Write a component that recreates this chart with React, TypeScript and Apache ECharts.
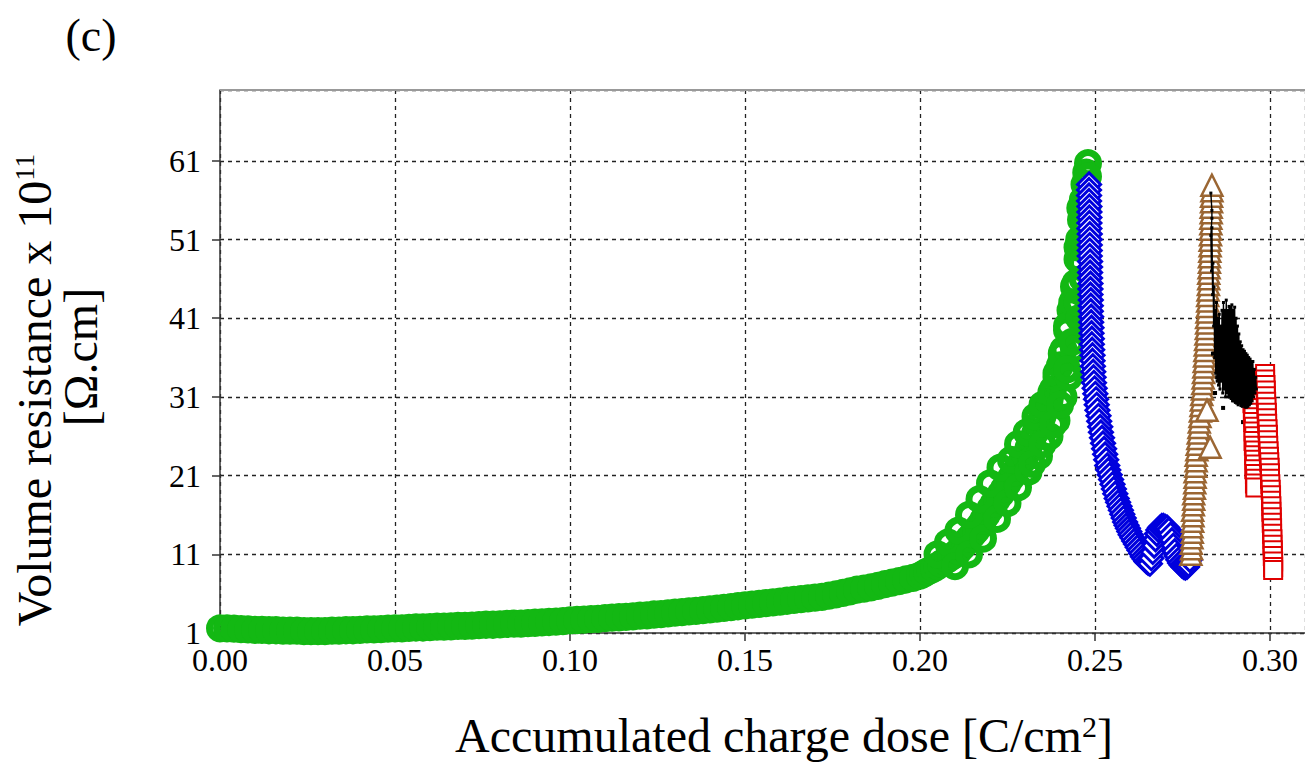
import { useEffect, useRef } from "react";
import * as echarts from "echarts";

const FONT = '"Liberation Serif", "Times New Roman", serif';

// ---- tick values ----
const xTicks = { min: 0, max: 0.31, step: 0.05 };
const yTicks = { min: 1, max: 70, step: 10 };

// ---- series (x: accumulated charge dose, y: volume resistance x 1e11) ----
const greenCircles: [number, number][] = [
  [0.000,1.6],[0.002,1.6],[0.004,1.55],[0.006,1.5],[0.008,1.45],[0.010,1.4],[0.012,1.4],[0.014,1.35],[0.016,1.35],[0.018,1.3],
  [0.020,1.3],[0.022,1.3],[0.024,1.25],[0.026,1.25],[0.028,1.25],[0.030,1.25],[0.032,1.3],[0.034,1.3],[0.036,1.35],[0.038,1.35],
  [0.040,1.4],[0.042,1.45],[0.044,1.45],[0.046,1.5],[0.048,1.55],[0.050,1.6],[0.052,1.6],[0.054,1.65],[0.056,1.7],[0.058,1.7],
  [0.060,1.75],[0.062,1.8],[0.064,1.8],[0.066,1.85],[0.068,1.9],[0.070,1.9],[0.072,1.95],[0.074,2.0],[0.076,2.05],[0.078,2.05],
  [0.080,2.1],[0.082,2.15],[0.084,2.2],[0.086,2.2],[0.088,2.25],[0.090,2.3],[0.092,2.35],[0.094,2.4],[0.096,2.45],[0.098,2.5],
  [0.100,2.6],[0.102,2.65],[0.104,2.7],[0.106,2.75],[0.108,2.8],[0.110,2.9],[0.112,2.95],[0.114,3.0],[0.116,3.05],[0.118,3.1],
  [0.120,3.2],[0.122,3.25],[0.124,3.35],[0.126,3.4],[0.128,3.5],[0.130,3.6],[0.132,3.65],[0.134,3.75],[0.136,3.8],[0.138,3.9],
  [0.140,4.0],[0.142,4.1],[0.144,4.2],[0.146,4.3],[0.148,4.4],[0.150,4.5],[0.152,4.6],[0.154,4.7],[0.156,4.8],[0.158,4.9],
  [0.160,5.0],[0.162,5.1],[0.164,5.2],[0.166,5.3],[0.168,5.4],[0.170,5.5],[0.172,5.6],[0.174,5.75],[0.176,5.9],[0.178,6.1],
  [0.180,6.3],[0.182,6.5],[0.184,6.65],[0.186,6.8],[0.188,7.0],[0.190,7.2],[0.192,7.4],[0.194,7.6],[0.196,7.8],[0.198,8.0],
  [0.200,8.3],[0.201,8.5],[0.202,8.8],[0.203,9.0],[0.204,9.2],[0.205,9.5],[0.206,9.8],[0.207,10.1],[0.208,10.4],[0.209,10.7],
  [0.210,11.0],[0.211,11.4],[0.212,11.9],[0.213,12.4],[0.214,13.0],[0.215,13.5],[0.216,14.0],[0.217,14.6],[0.218,15.3],[0.219,16.0],
  [0.220,16.7],[0.221,17.4],[0.222,18.0],[0.223,18.6],[0.224,19.3],[0.225,20.0],[0.226,20.7],[0.227,21.4],[0.228,22.0],[0.229,22.7],
  [0.230,23.5],[0.231,24.5],[0.232,25.5],[0.233,26.5],[0.234,27.5],[0.235,28.5],[0.236,29.5],[0.237,30.5],[0.238,32.0],[0.239,33.5],
  [0.240,35.0],[0.241,37.0],[0.242,39.5],[0.243,42.0],[0.244,45.0],[0.245,48.5],[0.2455,51.0],[0.246,53.5],[0.2465,56.0],[0.247,58.0],
  [0.2475,59.5],[0.248,60.7],
  [0.205,11.0],[0.208,12.5],[0.211,14.0],[0.214,16.0],[0.217,18.0],[0.220,20.0],[0.223,22.0],[0.226,23.0],[0.228,25.0],[0.2305,26.5],
  [0.233,28.5],[0.235,30.0],[0.2375,31.5],[0.239,34.0],[0.2405,36.5],[0.242,40.0],[0.2435,43.0],[0.2445,45.5],[0.245,50.0],[0.2458,55.0],
  [0.210,9.5],[0.214,11.0],[0.218,13.0],[0.222,15.5],[0.225,17.5],[0.228,19.5],[0.231,21.5],[0.234,23.5],[0.237,26.0],[0.239,28.0],
  [0.241,31.0],[0.2425,33.5],[0.244,37.0],[0.2455,41.0],[0.2465,46.0],[0.2472,50.0],[0.2478,55.0],[0.248,59.0],
  [0.232,22.5],[0.235,25.0],[0.238,27.5],[0.240,30.0],[0.242,34.5],[0.2435,38.0],[0.245,43.0],[0.246,48.0],[0.247,53.0]
];

const blueDiamonds: [number, number][] = [
  [0.2483,58.0],[0.2483,57.3],[0.2483,56.6],[0.2483,55.9],[0.2484,55.2],[0.2484,54.5],[0.2484,53.8],[0.2484,53.1],[0.2484,52.4],[0.2485,51.7],
  [0.2485,51.0],[0.2485,50.3],[0.2485,49.6],[0.2485,48.9],[0.2486,48.2],[0.2486,47.5],[0.2486,46.8],[0.2486,46.1],[0.2487,45.4],[0.2487,44.7],
  [0.2487,44.0],[0.2488,43.3],[0.2488,42.6],[0.2488,41.9],[0.2489,41.2],[0.2489,40.5],[0.2490,39.8],[0.2490,39.1],[0.2491,38.4],[0.2491,37.7],
  [0.2492,37.0],[0.2493,36.3],[0.2493,35.6],[0.2494,34.9],[0.2495,34.2],[0.2496,33.5],[0.2497,32.8],
  [0.2499,32.1],[0.2501,31.4],[0.2503,30.7],[0.2505,30.0],[0.2507,29.3],[0.2510,28.6],[0.2512,27.9],[0.2515,27.2],[0.2517,26.5],[0.2520,25.8],
  [0.2523,25.1],[0.2526,24.4],[0.2529,23.7],[0.2532,23.0],[0.2535,22.3],[0.2538,21.7],[0.2542,21.1],[0.2546,20.5],[0.2550,19.9],[0.2554,19.3],
  [0.2558,18.7],[0.2562,18.1],[0.2566,17.6],[0.2570,17.1],[0.2574,16.6],[0.2578,16.1],[0.2582,15.6],[0.2586,15.1],[0.2590,14.7],[0.2594,14.3],
  [0.2598,13.9],[0.2602,13.5],[0.2607,13.1],[0.2612,12.7],[0.2617,12.3],[0.2622,11.9],[0.2627,11.5],[0.2632,11.1],[0.2637,10.7],[0.2642,10.4],
  [0.2647,10.1],[0.2652,9.9],[0.2657,9.8],
  [0.2661,10.5],[0.2665,11.3],[0.2669,12.1],[0.2673,12.9],[0.2677,13.6],[0.2681,14.1],[0.2686,14.4],[0.2691,14.6],[0.2696,14.6],[0.2701,14.5],
  [0.2706,14.4],[0.2711,14.1],[0.2716,13.5],[0.2720,12.8],[0.2724,12.1],[0.2728,11.4],[0.2733,10.8],[0.2738,10.3],[0.2743,9.9],[0.2748,9.6],
  [0.2753,9.4],[0.2758,9.3],[0.2763,9.4],[0.2767,9.7],[0.2771,10.3]
];

const brownTriangles: [number, number][] = [
  [0.2774,11.0],[0.2776,11.7],[0.2775,12.4],[0.2777,13.1],[0.2778,13.8],[0.2777,14.5],[0.2779,15.2],[0.2780,15.9],[0.2779,16.6],[0.2781,17.3],
  [0.2782,18.0],[0.2782,18.7],[0.2784,19.4],[0.2785,20.1],[0.2786,20.8],[0.2786,21.5],[0.2788,22.2],[0.2789,22.9],[0.2789,23.6],[0.2791,24.3],
  [0.2792,25.0],[0.2794,25.7],[0.2795,26.4],[0.2797,27.1],[0.2798,27.8],[0.2800,28.5],[0.2801,29.2],[0.2803,29.9],[0.2804,30.6],[0.2805,31.3],
  [0.2807,32.0],[0.2808,32.7],[0.2809,33.4],[0.2810,34.1],[0.2811,34.8],[0.2812,35.5],[0.2813,36.2],[0.2814,36.9],[0.2815,37.6],[0.2816,38.3],
  [0.2817,39.0],[0.2818,39.7],[0.2819,40.4],[0.2819,41.1],[0.2820,41.8],[0.2821,42.5],[0.2822,43.2],[0.2822,43.9],[0.2823,44.6],[0.2824,45.3],
  [0.2825,46.0],[0.2825,46.7],[0.2826,47.4],[0.2827,48.1],[0.2827,48.8],[0.2828,49.5],[0.2829,50.2],[0.2829,50.9],[0.2830,51.6],[0.2830,52.3],
  [0.2831,53.0],[0.2831,53.7],[0.2832,54.4],[0.2832,55.1],[0.2833,55.8],[0.2833,56.5],[0.2834,57.2],[0.2834,57.9],
  [0.2820,29.3],[0.2829,24.6]
];

const blackDots: [number, number][] = [
  [0.2831,56.9],[0.2834,54.7],[0.2834,53.7],[0.2831,51.5],[0.2833,47.0],[0.2834,52.5],[0.2836,44.0],[0.2837,48.0],[0.2839,40.0],[0.2840,45.0],
  [0.2842,36.0],[0.2843,42.0],[0.2845,34.0],[0.2847,43.0],[0.2849,33.0],[0.2851,41.0],[0.2853,32.5],[0.2855,41.5],[0.2857,32.0],[0.2859,40.0],
  [0.2861,33.0],[0.2863,42.0],[0.2865,31.5],[0.2867,43.0],[0.2869,32.0],[0.2871,42.0],[0.2873,31.0],[0.2875,43.3],[0.2877,31.5],[0.2879,42.0],
  [0.2881,31.0],[0.2883,42.5],[0.2885,31.0],[0.2887,42.4],[0.2889,30.8],[0.2891,42.7],[0.2893,30.5],[0.2895,42.0],[0.2897,30.5],[0.2899,42.4],
  [0.2901,30.3],[0.2903,41.0],[0.2905,30.2],[0.2907,40.0],[0.2909,30.0],[0.2911,39.0],[0.2913,30.2],[0.2915,38.0],[0.2917,29.9],[0.2919,37.5],
  [0.2921,29.8],[0.2923,37.0],[0.2925,30.0],[0.2927,36.8],[0.2929,29.7],[0.2931,36.5],[0.2933,29.7],[0.2935,36.3],[0.2937,29.8],[0.2939,36.0],
  [0.2941,30.0],[0.2943,35.8],[0.2945,30.2],[0.2947,35.5],[0.2949,30.5],[0.2951,35.5],[0.2953,31.0],[0.2955,34.5],[0.2957,31.5],[0.2959,33.5],
  [0.2961,32.0]
];

const blackStray: [number, number][] = [
  [0.2843,31.5],[0.2849,33.5],[0.2866,29.6],[0.2923,27.8],[0.2837,36.5]
];

const redSquares: [number, number][] = [
  [0.2951,32.0],[0.2953,31.4],[0.2951,30.8],[0.2950,30.2],[0.2952,29.6],[0.2951,29.0],[0.2953,28.4],[0.2952,27.8],[0.2954,27.2],[0.2953,26.6],
  [0.2955,26.0],[0.2953,25.4],[0.2954,24.8],[0.2956,24.2],[0.2955,23.6],[0.2956,23.0],[0.2957,22.4],[0.2955,21.8],[0.2957,21.2],[0.2958,20.6],
  [0.2957,20.0],[0.2958,19.5],
  [0.2986,33.9],[0.2986,33.2],[0.2987,32.5],[0.2988,31.8],[0.2988,31.1],[0.2989,30.4],[0.2990,29.7],[0.2991,29.0],[0.2991,28.3],[0.2992,27.6],
  [0.2993,26.9],[0.2994,26.2],[0.2994,25.5],[0.2995,24.8],[0.2996,24.1],[0.2997,23.4],[0.2998,22.7],[0.2999,22.0],[0.3000,21.3],[0.3000,20.6],
  [0.3001,19.9],[0.3002,19.2],[0.3003,18.5],[0.3003,17.8],[0.3004,17.1],[0.3004,16.4],[0.3005,15.7],[0.3005,15.0],[0.3006,14.3],[0.3006,13.6],
  [0.3007,12.9],[0.3007,12.2],[0.3008,11.5],[0.3008,10.8],[0.3009,10.1],[0.3009,9.4],[0.3009,9.0]
];

const colors = {
  green: "#13b813",
  blue: "#0000dd",
  brown: "#9b6633",
  black: "#000000",
  red: "#e00000",
};

export default function App() {
  const ref = useRef<HTMLDivElement>(null);
  useEffect(() => {
    const chart = echarts.init(ref.current!, null, { renderer: "svg" });
    const axisLabelStyle = { fontFamily: FONT, fontSize: 32, color: "#000" };
    chart.setOption({
      animation: false,
      backgroundColor: "#fff",
      grid: { left: 220, right: 0, top: 90, bottom: 129, containLabel: false },
      xAxis: {
        type: "value",
        min: xTicks.min,
        max: xTicks.max,
        interval: xTicks.step,
        axisLine: { show: true, onZero: false, lineStyle: { color: "#333", width: 1.5 } },
        axisTick: { show: true, length: 8, lineStyle: { color: "#333", width: 1.5 } },
        axisLabel: {
          ...axisLabelStyle,
          margin: 11,
          showMaxLabel: false,
          formatter: (v: number) => v.toFixed(2),
        },
        splitLine: { show: true, lineStyle: { type: [4, 4], color: "#222", width: 1.3 } },
      },
      yAxis: {
        type: "value",
        min: yTicks.min,
        max: yTicks.max,
        interval: yTicks.step,
        axisLine: { show: true, onZero: false, lineStyle: { color: "#333", width: 1.5 } },
        axisTick: { show: true, length: 8, lineStyle: { color: "#333", width: 1.5 } },
        axisLabel: {
          ...axisLabelStyle,
          margin: 19,
          showMaxLabel: false,
          formatter: (v: number) => String(Math.round(v)),
        },
        splitLine: { show: true, lineStyle: { type: [4, 4], color: "#222", width: 1.3 } },
      },
      series: [
        {
          type: "scatter",
          data: greenCircles,
          symbol: "circle",
          symbolSize: 21,
          silent: true,
          itemStyle: { color: "rgba(255,255,255,0)", borderColor: colors.green, borderWidth: 7, opacity: 1 },
        },
        {
          type: "scatter",
          data: blueDiamonds,
          symbol: "diamond",
          symbolSize: 23,
          silent: true,
          itemStyle: { color: "#fff", borderColor: colors.blue, borderWidth: 3, opacity: 1 },
        },
        {
          type: "scatter",
          data: brownTriangles,
          symbol: "triangle",
          symbolSize: 21,
          silent: true,
          itemStyle: { color: "#fff", borderColor: colors.brown, borderWidth: 2.5, opacity: 1 },
        },
        {
          type: "line",
          data: blackDots,
          symbol: "rect",
          symbolSize: 3,
          showSymbol: true,
          showAllSymbol: true,
          silent: true,
          lineStyle: { color: colors.black, width: 1.4 },
          itemStyle: { color: colors.black },
        },
        {
          type: "scatter",
          data: blackStray,
          symbol: "rect",
          symbolSize: 4,
          silent: true,
          itemStyle: { color: colors.black, opacity: 1 },
        },
        {
          type: "scatter",
          data: redSquares,
          symbol: "rect",
          symbolSize: 18,
          silent: true,
          itemStyle: { color: "#fff", borderColor: colors.red, borderWidth: 2, opacity: 1 },
        },
      ],
      graphic: [
        {
          type: "line",
          z: 100,
          shape: { x1: 220, y1: 90, x2: 1305, y2: 90 },
          style: { stroke: "#999", lineWidth: 2 },
        },
        {
          type: "text",
          z: 100,
          x: 91,
          y: 35,
          style: { text: "(c)", fontFamily: FONT, fontSize: 46, fill: "#000", align: "center", verticalAlign: "middle" },
        },
        {
          type: "text",
          z: 100,
          x: 784,
          y: 735,
          style: {
            text: "{a|Accumulated charge dose [C/cm}{s|2}{a|]}",
            align: "center",
            verticalAlign: "middle",
            fill: "#000",
            rich: {
              a: { fontFamily: FONT, fontSize: 48, lineHeight: 48, fill: "#000" },
              s: { fontFamily: FONT, fontSize: 30, lineHeight: 28, verticalAlign: "top", fill: "#000" },
            },
          },
        },
        {
          type: "text",
          z: 100,
          x: 34,
          y: 390,
          rotation: Math.PI / 2,
          style: {
            text: "{a|Volume resistance x 10}{s|11}",
            align: "center",
            verticalAlign: "middle",
            fill: "#000",
            rich: {
              a: { fontFamily: FONT, fontSize: 48, lineHeight: 48, fill: "#000" },
              s: { fontFamily: FONT, fontSize: 28, lineHeight: 28, verticalAlign: "top", fill: "#000" },
            },
          },
        },
        {
          type: "text",
          z: 100,
          x: 80,
          y: 357,
          rotation: Math.PI / 2,
          style: { text: "[Ω.cm]", fontFamily: FONT, fontSize: 48, fill: "#000", align: "center", verticalAlign: "middle" },
        },
      ],
    });
    return () => chart.dispose();
  }, []);
  return (
    <div
      ref={ref}
      style={{ position: "absolute", left: 0, top: 0, width: 1305, height: 762, background: "#fff" }}
    />
  );
}
